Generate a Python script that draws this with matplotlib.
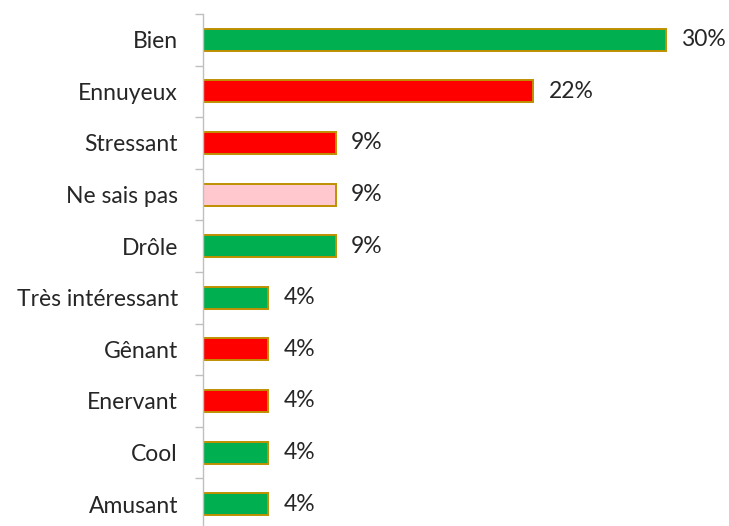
import matplotlib

matplotlib.use("Agg")

import matplotlib.pyplot as plt
import numpy as np

categories = [
    "Bien", "Ennuyeux", "Stressant", "Ne sais pas", "Drôle",
    "Très intéressant", "Gênant", "Enervant", "Cool", "Amusant",
]
values = [30.4, 21.7, 8.7, 8.7, 8.7, 4.3, 4.3, 4.3, 4.3, 4.3]
value_labels = ["30%", "22%", "9%", "9%", "9%", "4%", "4%", "4%", "4%", "4%"]
bar_colors = [
    "#00B050", "#FF0000", "#FF0000", "#FFC7CE", "#00B050",
    "#00B050", "#FF0000", "#FF0000", "#00B050", "#00B050",
]

plt.rcParams["font.family"] = ["Lato", "DejaVu Sans"]

fig = plt.figure(figsize=(7.29, 5.26), dpi=100)
ax = fig.add_axes([203 / 729, -4 / 526, 1 - 203 / 729, 516 / 526])

y = np.arange(len(categories))
ax.barh(y, values, height=0.43, color=bar_colors, edgecolor="#BF9000", linewidth=1.4)

for yi, v, lab in zip(y, values, value_labels):
    ax.text(v + 1.0, yi, lab, va="center", ha="left", fontsize=16.5, color="#262626")

ax.set_ylim(len(categories) - 0.5, -0.5)
ax.set_xlim(0, 526 / 15.23)

ax.set_yticks(y)
ax.set_yticklabels(categories, fontsize=16.5, color="#262626")
ax.set_yticks(np.arange(len(categories) + 1) - 0.5, minor=True)
ax.tick_params(axis="y", which="major", length=0, pad=18)
ax.tick_params(axis="y", which="minor", length=6, width=1, color="#BFBFBF")
ax.set_xticks([])

for side in ["top", "right", "bottom"]:
    ax.spines[side].set_visible(False)
ax.spines["left"].set_color("#BFBFBF")
ax.spines["left"].set_linewidth(1)

fig.savefig("out.png", dpi=100)
